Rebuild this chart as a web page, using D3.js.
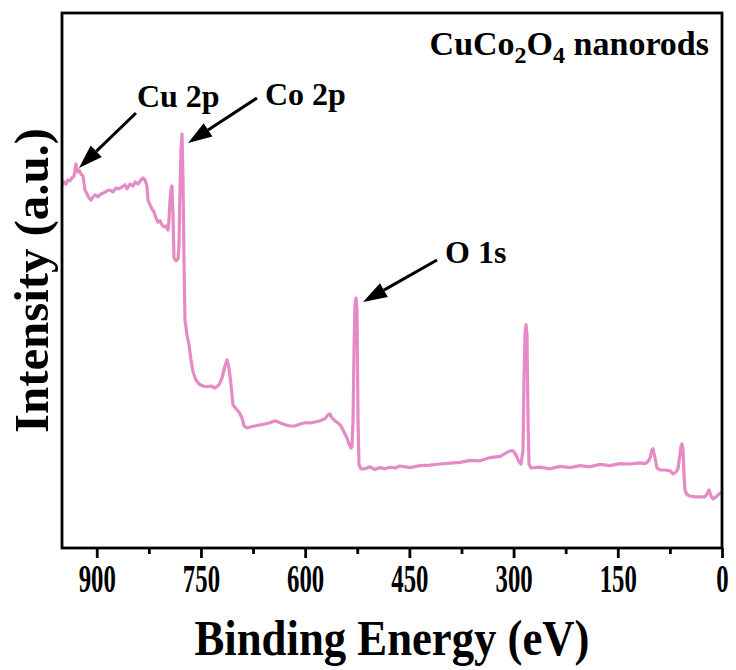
<!DOCTYPE html>
<html>
<head>
<meta charset="utf-8">
<script src="https://cdn.jsdelivr.net/npm/d3@7"></script>
<style>
  html, body { margin: 0; padding: 0; background: #fff; }
  svg { display: block; }
  text { font-family: "Liberation Serif", "Times New Roman", serif; font-weight: bold; fill: #000; }
</style>
</head>
<body>
<svg id="chart" width="736" height="670"></svg>
<script>
// XPS survey spectrum of CuCo2O4 nanorods
// Binding energy (eV), descending
const energy = [
  950.0, 947.1, 944.2, 941.4, 938.5, 935.6, 932.7, 929.9, 928.4, 925.5,
  922.7, 919.8, 916.9, 914.0, 911.1, 908.3, 905.4, 902.5, 898.2, 893.9,
  889.6, 885.2, 880.9, 876.6, 872.3, 868.0, 863.6, 859.3, 856.4, 852.1,
  847.8, 844.9, 840.6, 836.3, 833.4, 830.5, 827.7, 826.2, 823.3, 820.5,
  817.6, 814.7, 811.8, 808.9, 806.1, 803.2, 800.3, 797.4, 796.0, 794.5,
  793.1, 791.7, 790.2, 788.8, 785.9, 783.0, 781.6, 780.2, 778.7, 777.3,
  775.8, 774.4, 773.0, 770.1, 767.2, 764.3, 761.4, 757.1, 752.8, 747.0,
  741.3, 735.5, 729.8, 724.0, 719.7, 715.4, 712.5, 709.6, 706.7, 703.9,
  699.5, 695.2, 690.9, 688.0, 683.7, 678.0, 672.2, 665.0, 657.8, 650.6,
  643.4, 636.2, 629.0, 621.8, 614.6, 607.4, 600.2, 593.0, 585.8, 578.6,
  571.4, 567.1, 564.2, 561.4, 557.0, 552.7, 548.4, 544.1, 539.8, 536.9,
  534.0, 532.6, 531.1, 529.7, 528.3, 526.8, 525.4, 523.9, 522.5, 519.6,
  513.9, 506.7, 499.5, 492.3, 485.1, 477.9, 470.7, 463.5, 449.1, 434.7,
  420.3, 405.9, 391.5, 377.1, 362.7, 348.3, 333.9, 319.5, 312.3, 305.2,
  300.8, 296.5, 292.2, 289.3, 286.4, 285.0, 283.6, 282.1, 280.7, 279.2,
  277.8, 274.9, 262.0, 247.6, 233.2, 218.8, 204.4, 190.0, 175.6, 161.2,
  146.8, 132.4, 118.0, 110.8, 106.5, 103.6, 100.8, 99.3, 96.4, 93.6,
  89.2, 82.0, 74.8, 70.5, 66.2, 63.3, 60.5, 59.0, 57.6, 56.1,
  54.7, 53.3, 50.4, 46.1, 38.9, 31.7, 24.5, 21.6, 18.7, 15.8,
  13.0, 8.6, 4.3, 0.0
];
// Intensity (a.u.)
const intensity = [
  90.8, 91.5, 91.0, 92.0, 91.8, 92.5, 93.0, 96.0, 94.0, 94.5,
  93.5, 93.0, 89.5, 88.5, 87.5, 87.0, 87.8, 88.3, 87.8, 88.5,
  88.8, 89.3, 89.5, 89.0, 90.0, 89.8, 90.3, 90.8, 89.8, 91.0,
  90.5, 91.5, 91.0, 92.0, 92.5, 92.0, 90.5, 87.0, 85.8, 84.8,
  84.0, 82.5, 81.5, 81.8, 80.8, 80.3, 80.5, 79.5, 82.0, 87.0,
  89.5, 90.5, 83.3, 72.5, 71.8, 72.3, 75.8, 89.5, 99.5, 103.5,
  92.0, 72.0, 57.0, 53.3, 50.8, 47.0, 44.0, 42.0, 41.0, 40.5,
  40.3, 40.5, 40.0, 40.8, 42.5, 45.5, 47.0, 45.0, 40.8, 35.8,
  34.8, 34.0, 32.5, 30.5, 30.0, 30.3, 30.5, 30.8, 31.0, 31.3,
  31.8, 31.3, 30.8, 30.5, 30.5, 31.0, 31.3, 31.3, 31.5, 31.8,
  32.3, 33.3, 33.5, 32.5, 31.8, 31.3, 30.5, 29.0, 27.5, 26.0,
  25.0, 25.3, 32.0, 49.5, 60.8, 62.5, 59.5, 32.0, 20.8, 19.8,
  19.8, 20.3, 19.6, 20.1, 19.8, 20.2, 20.0, 20.5, 20.1, 20.6,
  20.7, 21.0, 21.2, 21.4, 21.9, 21.8, 22.6, 22.9, 23.6, 24.3,
  24.3, 23.3, 21.5, 21.0, 24.5, 42.0, 53.3, 55.8, 53.3, 32.0,
  21.0, 20.0, 20.2, 19.8, 20.4, 20.1, 20.6, 20.3, 20.9, 20.6,
  21.1, 21.0, 21.3, 21.1, 21.6, 22.5, 24.5, 24.8, 22.5, 20.0,
  19.5, 19.5, 19.3, 18.5, 19.0, 19.8, 23.3, 25.5, 26.0, 24.5,
  18.3, 14.5, 13.3, 13.0, 12.8, 12.8, 12.8, 13.5, 14.5, 13.0,
  12.3, 12.8, 13.5, 14.0
];

const majorTicks = [900, 750, 600, 450, 300, 150, 0];
const minorTicks = [825, 675, 525, 375, 225, 75];

// Peak labels: energy/intensity of the peak the arrow points at
const peakLabels = ["Cu 2p", "Co 2p", "O 1s"];
const peakEnergy = [929.9, 777.3, 526.8];
const peakIntensity = [96.0, 103.5, 62.5];

const xTitle = "Binding Energy (eV)";
const yTitle = "Intensity (a.u.)";

const svg = d3.select("#chart");
const plot = { left: 62, right: 722, top: 13, bottom: 548 };

const x = d3.scaleLinear().domain([950, 0]).range([plot.left, plot.right]);
const y = d3.scaleLinear().domain([0, 133.75]).range([plot.bottom, plot.top]);

const series = energy.map((e, i) => ({ e, v: intensity[i] }));

// spectrum line
const line = d3.line().x(d => x(d.e)).y(d => y(d.v));
svg.append("path")
  .datum(series)
  .attr("d", line)
  .attr("fill", "none")
  .attr("stroke", "#e68ac6")
  .attr("stroke-width", 3.2)
  .attr("stroke-linejoin", "round");

// frame
svg.append("rect")
  .attr("x", plot.left).attr("y", plot.top)
  .attr("width", plot.right - plot.left)
  .attr("height", plot.bottom - plot.top)
  .attr("fill", "none")
  .attr("stroke", "#000")
  .attr("stroke-width", 2.8);

// bottom axis: major ticks with labels (tall, condensed numerals)
const xAxis = svg.append("g")
  .attr("transform", `translate(0,${plot.bottom})`)
  .call(d3.axisBottom(x).tickValues(majorTicks).tickSize(10).tickSizeOuter(0).tickPadding(6).tickFormat(d3.format("d")));
xAxis.select(".domain").remove();
xAxis.selectAll(".tick line").attr("stroke", "#000").attr("stroke-width", 2.8);
xAxis.selectAll(".tick text")
  .attr("font-family", "Liberation Serif, serif")
  .attr("font-weight", "bold")
  .attr("font-size", 40)
  .attr("transform", "scale(0.62,1)")
  .attr("fill", "#000");

// minor ticks
const xMinor = svg.append("g")
  .attr("transform", `translate(0,${plot.bottom})`)
  .call(d3.axisBottom(x).tickValues(minorTicks).tickSize(6).tickSizeOuter(0).tickFormat(""));
xMinor.select(".domain").remove();
xMinor.selectAll(".tick line").attr("stroke", "#000").attr("stroke-width", 2.8);

// axis titles
svg.append("text")
  .attr("x", (plot.left + plot.right) / 2)
  .attr("y", 655)
  .attr("text-anchor", "middle")
  .attr("font-size", 50)
  .attr("textLength", 395)
  .attr("lengthAdjust", "spacingAndGlyphs")
  .text(xTitle);

svg.append("text")
  .attr("transform", `translate(48,${(plot.top + plot.bottom) / 2 + 0}) rotate(-90)`)
  .attr("text-anchor", "middle")
  .attr("font-size", 48)
  .attr("textLength", 305)
  .attr("lengthAdjust", "spacingAndGlyphs")
  .text(yTitle);

// sample name with subscripts
const nameText = svg.append("text")
  .attr("x", 709)
  .attr("y", 55)
  .attr("text-anchor", "end")
  .attr("font-size", 34);
nameText.append("tspan").text("CuCo");
nameText.append("tspan").attr("font-size", 24).attr("dy", 8).text("2");
nameText.append("tspan").attr("dy", -8).text("O");
nameText.append("tspan").attr("font-size", 24).attr("dy", 8).text("4");
nameText.append("tspan").attr("dy", -8).text(" nanorods");

// arrow annotations: tip offset from the peak, tail offset, label offset
const tipOffset = [[3, 4], [6, 9], [7, 4]];
const tailOffset = [[60, -51], [75, -36], [81, -38]];
const labelOffset = [[61, -57], [83, -29], [89, -35]];

peakLabels.forEach((lab, i) => {
  const px = x(peakEnergy[i]), py = y(peakIntensity[i]);
  const tx = px + tipOffset[i][0], ty = py + tipOffset[i][1];
  const sx = px + tailOffset[i][0], sy = py + tailOffset[i][1];
  const ang = Math.atan2(ty - sy, tx - sx);
  const headLen = 24, headHalf = 8;
  const bx = tx - headLen * Math.cos(ang), by = ty - headLen * Math.sin(ang);
  svg.append("line")
    .attr("x1", sx).attr("y1", sy).attr("x2", bx).attr("y2", by)
    .attr("stroke", "#000").attr("stroke-width", 3);
  const nx = -Math.sin(ang), ny = Math.cos(ang);
  svg.append("path")
    .attr("d", `M${tx},${ty} L${bx + nx * headHalf},${by + ny * headHalf} L${bx - nx * headHalf},${by - ny * headHalf} Z`)
    .attr("fill", "#000");
  svg.append("text")
    .attr("x", px + labelOffset[i][0])
    .attr("y", py + labelOffset[i][1])
    .attr("font-size", 32)
    .text(lab);
});
</script>
</body>
</html>
